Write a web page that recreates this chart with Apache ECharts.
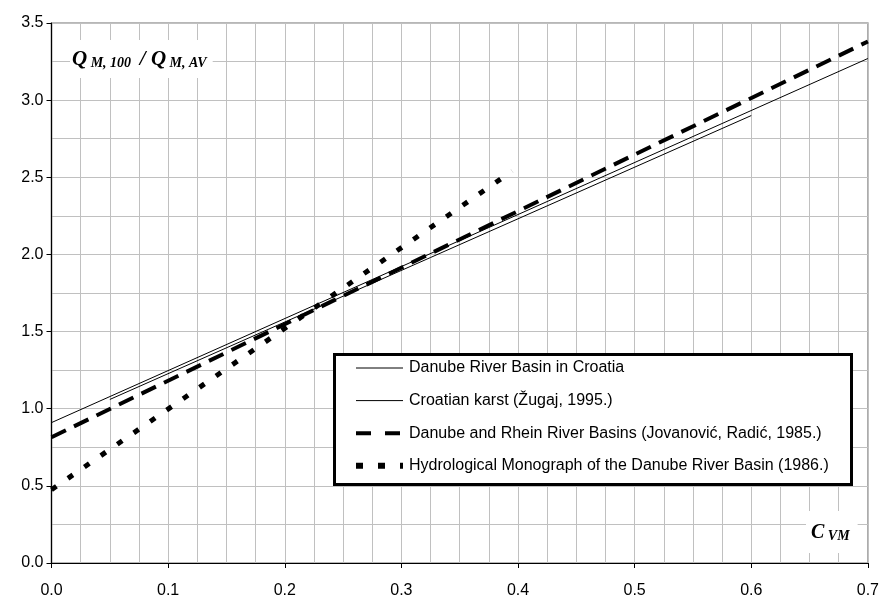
<!DOCTYPE html>
<html>
<head>
<meta charset="utf-8">
<script src="https://cdn.jsdelivr.net/npm/echarts@6/dist/echarts.min.js"></script>
<style>
html,body{margin:0;padding:0;background:#fff;}
#chart{width:882px;height:601px;}
</style>
</head>
<body>
<div id="chart"></div>
<script>
// Data
var seriesNames = [
  'Danube River Basin in Croatia',
  'Croatian karst (Žugaj, 1995.)',
  'Danube and Rhein River Basins (Jovanović, Radić, 1985.)',
  'Hydrological Monograph of the Danube River Basin (1986.)'
];
var croatiaX = [0.0, 0.7];
var croatiaY = [0.91, 3.27];
var karstX = [0.05, 0.6];
var karstY = [1.06, 2.90];
var rheinX = [0.0, 0.7];
var rheinY = [0.815, 3.38];
var monoX = [0.0, 0.395];
var monoY = [0.475, 2.54];
var yAxisTitle = ['Q', ' M, 100 ', ' / Q', ' M, AV'];
var xAxisTitle = ['C', ' VM'];

function pairs(xs, ys) { return xs.map(function (x, i) { return [x, ys[i]]; }); }

var font = '"Liberation Sans", Arial, sans-serif';
var serif = '"Liberation Serif", "Times New Roman", serif';

var styles = [
  {color: '#000', width: 1, type: 'solid'},
  {color: '#000', width: 1, type: 'solid'},
  {color: '#000', width: 4, type: [16, 9]},
  {color: '#000', width: 5, type: [6, 14]}
];
var legendStyles = [
  {color: '#000', width: 1, type: 'solid'},
  {color: '#000', width: 1, type: 'solid'},
  {color: '#000', width: 4, type: [15, 14]},
  {color: '#000', width: 6, type: [7, 15]}
];

var chart = echarts.init(document.getElementById('chart'), null, {renderer: 'canvas'});
chart.setOption({
  animation: false,
  backgroundColor: '#ffffff',
  grid: {left: 51.5, right: 13, top: 23, bottom: 38, show: true, borderColor: '#a0a0a0', borderWidth: 1.5, backgroundColor: 'transparent'},
  xAxis: {
    type: 'value', min: 0, max: 0.7, interval: 0.1,
    axisLine: {show: true, onZero: false, lineStyle: {color: '#000', width: 1.2}},
    axisTick: {show: true, length: 5, lineStyle: {color: '#000'}},
    axisLabel: {color: '#000', fontSize: 16, fontFamily: font, margin: 20, formatter: function (v) { return v.toFixed(1); }},
    splitLine: {show: true, lineStyle: {color: '#c0c0c0', width: 1}},
    minorTick: {show: false, splitNumber: 4},
    minorSplitLine: {show: true, lineStyle: {color: '#c0c0c0', width: 1}}
  },
  yAxis: {
    type: 'value', min: 0, max: 3.5, interval: 0.5,
    axisLine: {show: true, onZero: false, lineStyle: {color: '#000', width: 1.2}},
    axisTick: {show: true, length: 5, lineStyle: {color: '#000'}},
    axisLabel: {color: '#000', fontSize: 16, fontFamily: font, margin: 8, formatter: function (v) { return v.toFixed(1); }},
    splitLine: {show: true, lineStyle: {color: '#c0c0c0', width: 1}},
    minorTick: {show: false, splitNumber: 2},
    minorSplitLine: {show: true, lineStyle: {color: '#c0c0c0', width: 1}}
  },
  legend: {
    orient: 'vertical', left: 353, top: 358, z: 20,
    itemWidth: 47, itemHeight: 10, itemGap: 12.6,
    padding: 0,
    data: seriesNames.map(function (n, i) { return {name: n, lineStyle: legendStyles[i]}; }),
    itemStyle: {color: 'transparent', borderColor: 'transparent', borderWidth: 0, opacity: 0},
    textStyle: {color: '#000', fontSize: 16, fontFamily: font, lineHeight: 20, padding: [0, 0, 0, 1]}
  },
  graphic: [
    {type: 'rect', left: 333, top: 353, z: 15, shape: {width: 517, height: 130},
     style: {fill: '#fff', stroke: '#000', lineWidth: 3}},
    {type: 'text', left: 70, top: 40, z: 15,
     style: {
       text: '{q|' + yAxisTitle[0] + '}{s|' + yAxisTitle[1] + '}{q|' + yAxisTitle[2] + '}{s|' + yAxisTitle[3] + '}',
       backgroundColor: '#fff', padding: [6, 6, 8, 2],
       rich: {
         q: {fontFamily: serif, fontSize: 21, fontWeight: 'bold', fontStyle: 'italic', fill: '#000', lineHeight: 24, verticalAlign: 'bottom'},
         s: {fontFamily: serif, fontSize: 14, fontWeight: 'bold', fontStyle: 'italic', fill: '#000', lineHeight: 16, verticalAlign: 'bottom'}
       }
     }},
    {type: 'text', left: 806, top: 511, z: 15,
     style: {
       text: '{q|' + xAxisTitle[0] + '}{s|' + xAxisTitle[1] + '}',
       backgroundColor: '#fff', padding: [8, 8, 10, 5],
       rich: {
         q: {fontFamily: serif, fontSize: 20, fontWeight: 'bold', fontStyle: 'italic', fill: '#000', lineHeight: 24, verticalAlign: 'bottom'},
         s: {fontFamily: serif, fontSize: 14, fontWeight: 'bold', fontStyle: 'italic', fill: '#000', lineHeight: 16, verticalAlign: 'bottom'}
       }
     }}
  ],
  series: seriesNames.map(function (n, i) {
    var xs = [croatiaX, karstX, rheinX, monoX][i];
    var ys = [croatiaY, karstY, rheinY, monoY][i];
    return {name: n, type: 'line', data: pairs(xs, ys), symbol: 'none', z: 3, lineStyle: styles[i]};
  })
});
</script>
</body>
</html>
